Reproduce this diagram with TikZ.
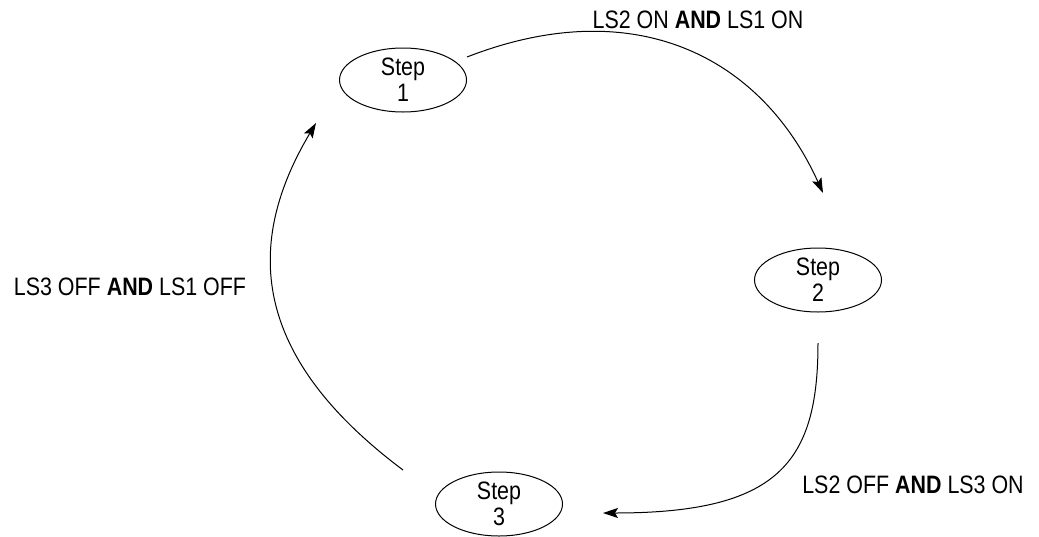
\documentclass[tikz,border=0pt]{standalone}
\usepackage{fontspec}
\setmainfont{Liberation Sans}[FakeStretch=0.85]
\usetikzlibrary{shapes.geometric, arrows.meta}

\tikzset{
  stepnode/.style={draw, ellipse, line width=0.5pt, minimum width=63.5pt,
    minimum height=32pt, inner sep=0pt, align=center,
    font=\fontsize{12.6}{13}\selectfont},
  cond/.style={anchor=base, inner sep=0pt, font=\fontsize{12.6}{15}\selectfont},
  trans/.style={line width=0.5pt, -{Stealth[length=7.5pt,width=5pt,inset=1.5pt]}}
}

\begin{document}
\begin{tikzpicture}[x=0.5pt, y=-0.5pt]
        \useasboundingbox (0,0) rectangle (1039,536);
        % steps
        \node[stepnode] (s1) at (403,80) {Step\\1};
        \node[stepnode] (s2) at (818,280) {Step\\2};
        \node[stepnode] (s3) at (499,504) {Step\\3};
        % ends of the transitions
        \coordinate (out1) at (467,57);
        \coordinate (in2) at (823,193);
        \coordinate (out2) at (818,343);
        \coordinate (in3) at (603,513);
        \coordinate (out3) at (403,470);
        \coordinate (in1) at (316,123);
        % transitions
        \draw[trans] (out1) .. controls (634,-8) and (761,56) .. (in2);
        \draw[trans] (out2) .. controls (818,463) and (778,513) .. (in3);
        \draw[trans] (out3) .. controls (259,362) and (239,252) .. (in1);
        % conditions
        \node[cond] (c12) at (698,28) {LS2 ON \textbf{AND} LS1 ON};
        \node[cond] (c23) at (913,493) {LS2 OFF \textbf{AND} LS3 ON};
        \node[cond] (c31) at (130,295) {LS3 OFF \textbf{AND} LS1 OFF};
    \end{tikzpicture}
\end{document}
